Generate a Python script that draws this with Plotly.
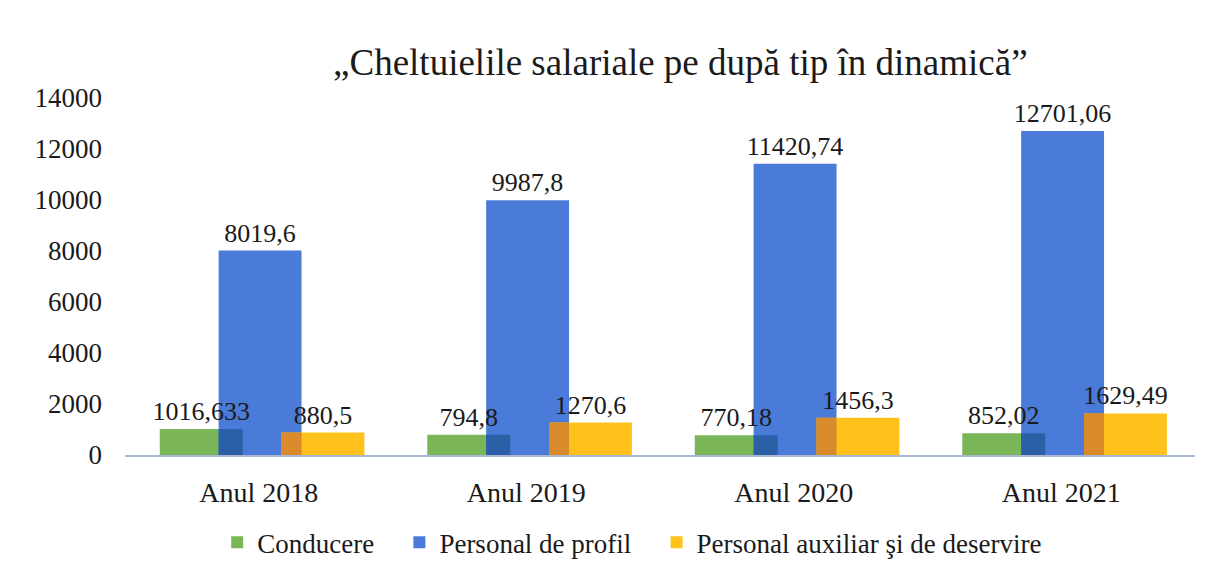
import plotly.graph_objects as go

categories = ["Anul 2018", "Anul 2019", "Anul 2020", "Anul 2021"]
conducere = [1016.633, 794.8, 770.18, 852.02]
profil = [8019.6, 9987.8, 11420.74, 12701.06]
auxiliar = [880.5, 1270.6, 1456.3, 1629.49]
series_names = ["Conducere", "Personal de profil", "Personal auxiliar şi de deservire"]
y_ticks = [0, 2000, 4000, 6000, 8000, 10000, 12000, 14000]

def fmt(v):
    return str(v).replace(".", ",")

FONT = "Liberation Serif, Times New Roman, serif"
W = 0.31
OFF_G, OFF_B, OFF_O = -0.37, -0.15, 0.085
C_G, C_B, C_O = "#7AB657", "#4A7BD8", "#FFC21C"
C_BD, C_OD = "#2B5FA6", "#D98A2A"
PAD = "\u00a0" * 3

xs = list(range(len(categories)))
fig = go.Figure()

def bar(y, off, width, color, name=None, legend=False, text=None):
    return go.Bar(
        x=xs, y=y, offset=off, width=width,
        marker=dict(color=color, line=dict(width=0)),
        name=name, showlegend=legend,
        text=text, textposition="outside" if text else None,
        textfont=dict(family=FONT, size=26, color="#1a1a1a"),
        constraintext="none",
        cliponaxis=False, hoverinfo="skip",
    )

fig.add_trace(bar(conducere, OFF_G, W, C_G, series_names[0] + PAD, True))
fig.add_trace(bar(profil, OFF_B, W, C_B, series_names[1] + PAD, True))
fig.add_trace(bar([min(a, b) for a, b in zip(conducere, profil)], OFF_B, OFF_G + W - OFF_B, C_BD))
fig.add_trace(bar(auxiliar, OFF_O, W, C_O, series_names[2], True))
fig.add_trace(bar([min(a, b) for a, b in zip(auxiliar, profil)], OFF_O, OFF_B + W - OFF_O, C_OD))
# labels on top
for vals, off in [(conducere, OFF_G), (profil, OFF_B), (auxiliar, OFF_O)]:
    fig.add_trace(bar(vals, off, W, "rgba(0,0,0,0)", text=[fmt(v) for v in vals]))

fig.update_layout(
    width=1223, height=571,
    barmode="overlay",
    plot_bgcolor="white", paper_bgcolor="white",
    margin=dict(l=117, r=36, t=90, b=124, autoexpand=False),
    font=dict(family=FONT, size=26, color="#1a1a1a"),
    title=dict(text="„Cheltuielile salariale pe după tip în dinamică”",
               font=dict(family=FONT, size=37, color="#1a1a1a"),
               x=0.519, xref="paper", xanchor="center", y=0.905, yref="container", yanchor="middle"),
    legend=dict(orientation="h", x=0.474, xanchor="center", y=-0.246, yanchor="middle",
                font=dict(family=FONT, size=27), itemwidth=30, traceorder="normal",
                itemsizing="constant"),
    xaxis=dict(range=[-0.5, 3.5], tickvals=xs, ticktext=categories, showgrid=False,
               showline=True, linecolor="#A9B8D6", linewidth=2, zeroline=False,
               ticks="", ticklabelstandoff=11, tickfont=dict(family=FONT, size=28),
               automargin=False),
    yaxis=dict(range=[0, 14000], tickvals=y_ticks, ticktext=[str(v) for v in y_ticks],
               showgrid=False, showline=False,
               zeroline=False, ticks="", ticklabelstandoff=22,
               tickfont=dict(family=FONT, size=27), automargin=False),
)
fig.write_html("out.html")
